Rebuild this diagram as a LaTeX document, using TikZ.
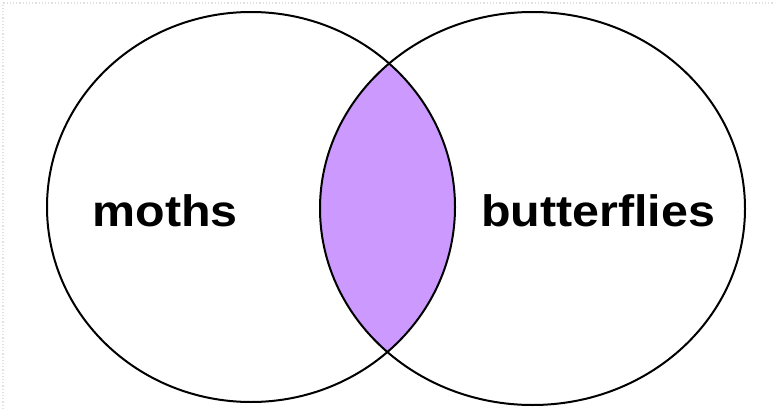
\documentclass[tikz,border=0pt]{standalone}
\usepackage{fontspec}
\setmainfont{Liberation Sans}
\begin{document}
\begin{tikzpicture}[x=1pt,y=-1pt,
  setline/.style={draw=black,line width=2pt},
  setlabel/.style={font=\fontsize{44}{44}\selectfont\bfseries,anchor=base,xscale=1.1,inner sep=0pt},
  edgemark/.style={draw=black!12,line width=1.2pt,dotted}]
\useasboundingbox (0,0) rectangle (773,409);
\fill[white] (0,0) rectangle (773,409);
\draw[edgemark] (3,409) -- (3,3) -- (773,3);
\begin{scope}
  \clip (251,207) ellipse [x radius=204, y radius=195];
  \fill[fill={rgb,255:red,204;green,153;blue,255}] (532.5,208.5) ellipse [x radius=212.5, y radius=196.5];
\end{scope}
\draw[setline] (251,207) ellipse [x radius=204, y radius=195];
\draw[setline] (532.5,208.5) ellipse [x radius=212.5, y radius=196.5];
\node[setlabel] (moths) at (165,226) {moths};
\node[setlabel] (butterflies) at (598,226) {butterflies};
\end{tikzpicture}
\end{document}
